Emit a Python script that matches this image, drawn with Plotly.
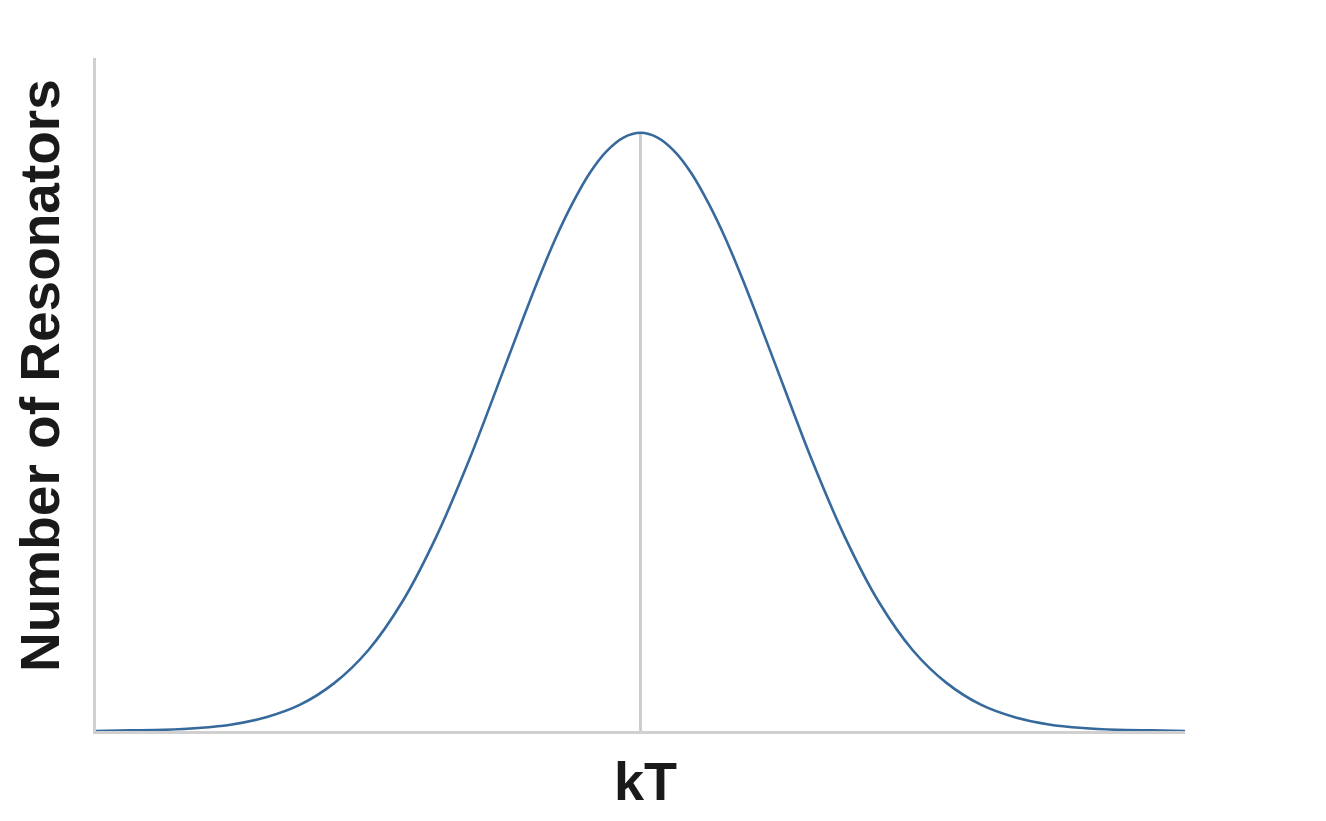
import plotly.graph_objects as go

# Energy positions (in units of the spread, centred on kT) and relative counts
energy = [-4.0, -3.75, -3.5, -3.25, -3.0, -2.75, -2.5, -2.25, -2.0, -1.75, -1.5, -1.25, -1.0,
          -0.875, -0.75, -0.625, -0.5, -0.375, -0.25, -0.125, 0.0,
          0.125, 0.25, 0.375, 0.5, 0.625, 0.75, 0.875,
          1.0, 1.25, 1.5, 1.75, 2.0, 2.25, 2.5, 2.75, 3.0, 3.25, 3.5, 3.75, 4.0]
resonators = [0.000, 0.001, 0.002, 0.005, 0.011, 0.023, 0.044, 0.080, 0.135, 0.216, 0.325, 0.458, 0.607,
              0.682, 0.755, 0.823, 0.882, 0.932, 0.969, 0.992, 1.000,
              0.992, 0.969, 0.932, 0.882, 0.823, 0.755, 0.682,
              0.607, 0.458, 0.325, 0.216, 0.135, 0.080, 0.044, 0.023, 0.011, 0.005, 0.002, 0.001, 0.000]
kT_position = 0.0
peak_value = max(resonators)

x_title = "kT"
y_title = "Number of Resonators"

fig = go.Figure()

# vertical marker at kT
fig.add_trace(go.Scatter(
    x=[kT_position, kT_position], y=[0, peak_value],
    mode="lines", line=dict(color="#cdcdcd", width=3),
    hoverinfo="skip", showlegend=False,
))

fig.add_trace(go.Scatter(
    x=energy, y=resonators, mode="lines",
    line=dict(color="#36699c", width=2.6, shape="spline", smoothing=0.8),
    showlegend=False,
))

fig.update_layout(
    width=1310, height=805,
    margin=dict(l=88, r=133, t=50, b=82),
    paper_bgcolor="white", plot_bgcolor="white",
    font=dict(family="Liberation Sans, Arial, sans-serif"),
    xaxis=dict(range=[-4, 4], showgrid=False, zeroline=False, showticklabels=False,
               ticks="", showline=True, linecolor="#d0d0d0", linewidth=3),
    yaxis=dict(range=[0, 1.125], showgrid=False, zeroline=False, showticklabels=False,
               ticks="", showline=True, linecolor="#d0d0d0", linewidth=3),
    annotations=[
        dict(text=f"<b>{x_title}</b>", xref="paper", yref="paper",
             x=(645 - 96) / 1089, y=(731 - 781) / 673, xanchor="center", yanchor="middle",
             showarrow=False, font=dict(size=54, color="#1a1a1a")),
        dict(text=f"<b>{y_title}</b>", xref="paper", yref="paper",
             x=(40 - 96) / 1089, y=(731 - 376) / 673, xanchor="center", yanchor="middle",
             textangle=-90, showarrow=False, font=dict(size=55, color="#1a1a1a")),
    ],
)

fig.write_html("out.html")
